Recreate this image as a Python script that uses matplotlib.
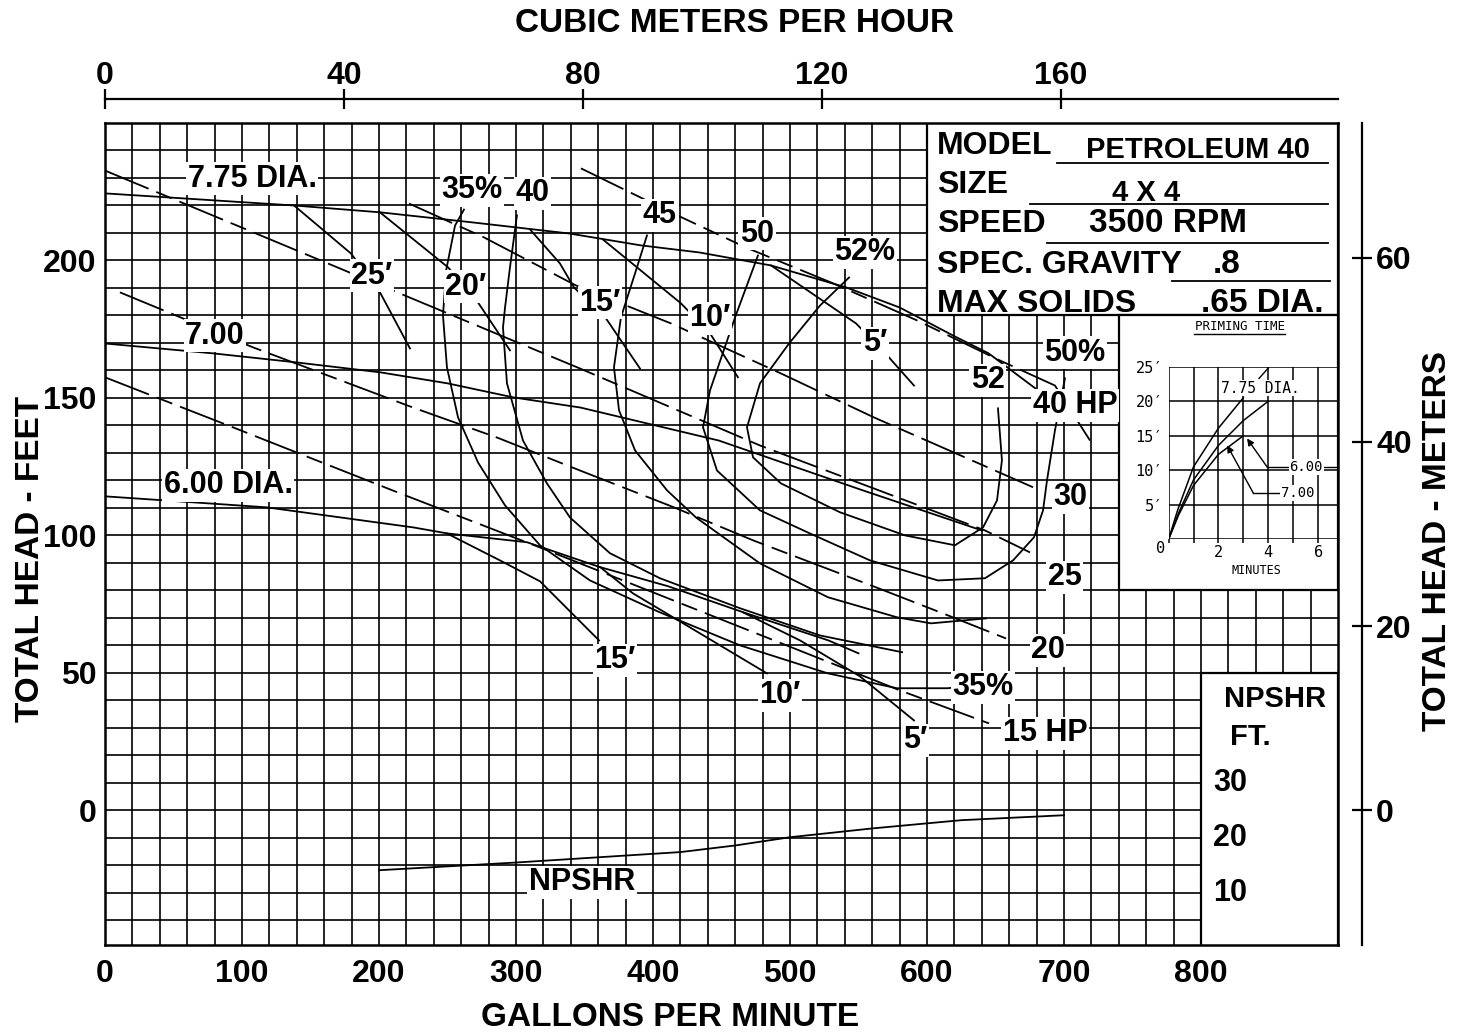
#!/usr/bin/env python3
import matplotlib

matplotlib.use("Agg")
import matplotlib.pyplot as plt
from matplotlib import font_manager
from matplotlib.patches import Rectangle

plt.rcParams["font.family"] = ["Liberation Sans", "DejaVu Sans"]
plt.rcParams["font.weight"] = "bold"
plt.rcParams["lines.scale_dashes"] = False

W, H, DPI = 1471, 1036, 100
LW = 1.3
HP_DASH = (0, (34, 6, 12, 6))
MONO = ["DejaVu Sans Mono", "DejaVu Sans"]

# head-capacity curves (gpm, ft)
DIA_775_GPM = [0, 138, 201, 269, 339, 391, 434, 486, 541, 580, 619, 645, 679]
DIA_775_FT = [224.4, 220.0, 217.5, 213.8, 209.8, 205.5, 202.9, 198.2, 190.2, 182.9, 172.7, 166.2, 153.5]
DIA_700_GPM = [0, 79, 140, 201, 250, 298, 347, 448, 553, 640]
DIA_700_FT = [169.8, 166.2, 162.9, 159.3, 155.3, 150.2, 146.5, 134.5, 116.4, 101.8]
DIA_600_GPM = [0, 118, 225, 250, 308, 361, 411, 466, 528, 550]
DIA_600_FT = [114.2, 110.2, 102.9, 100.7, 97.5, 88.5, 81.5, 72.0, 61.8, 57.1]

# efficiency curves
EFF_35_GPM = [262, 255.5, 249, 246.7, 249.6, 257.7, 272.3, 292, 317.5, 354, 405, 463.5, 527.7, 578, 615, 628]
EFF_35_FT = [218.5, 212.7, 196.4, 180.0, 161.1, 142.9, 126.5, 110.9, 96.4, 83.6, 72.0, 60.0, 49.8, 44.4, 44.4, 45.1]
EFF_40_GPM = [300.7, 295.6, 292.0, 290.5, 293.4, 305.1, 322.6, 339.4, 368.6, 405.1, 463.5, 521.9, 581.8]
EFF_40_FT = [216.4, 197.5, 182.9, 175.6, 155.3, 134.5, 118.9, 106.5, 93.5, 84.4, 73.5, 63.6, 57.5]
EFF_45_GPM = [395.6, 388.3, 376.6, 371.5, 375.2, 386.9, 410.2, 431.4, 478.1, 527.7, 578.1, 602.9, 643.1]
EFF_45_FT = [209.1, 197.5, 179.3, 161.1, 145.5, 130.9, 116.4, 106.5, 89.8, 77.5, 70.2, 68.0, 69.8]
EFF_50_GPM = [476.6, 459.9, 441.6, 436.5, 446.7, 478.1, 514.6, 558.4, 608.0, 642.3, 662.8, 678.1, 684.7, 687.6, 693.4, 700.7]
EFF_50_FT = [201.8, 179.3, 152.7, 139.3, 123.6, 109.1, 100.7, 90.9, 83.6, 84.4, 90.9, 99.3, 109.1, 120.0, 138.2, 157.1]
EFF_52_GPM = [543.1, 521.9, 499.3, 478.1, 468.6, 473.0, 493.4, 536.5, 583.9, 620.4, 640.9, 651.1, 654.7, 651.8]
EFF_52_FT = [193.8, 183.6, 169.8, 155.3, 139.3, 128.4, 118.9, 108.4, 100.0, 96.4, 102.9, 112.7, 127.3, 146.2]

# horsepower lines
HP_40_GPM = [347.4, 413.1, 467.9, 529.9, 592.7, 653.3, 693.4, 719.0]
HP_40_FT = [233.5, 217.5, 204.7, 192.0, 178.2, 163.6, 154.5, 134.5]
HP_30_GPM = [221.9, 276.6, 343.8, 413.1, 493.4, 561.3, 621.2, 677.4]
HP_30_FT = [220.7, 208.4, 190.9, 177.1, 158.9, 142.9, 129.8, 117.5]
HP_25_GPM = [0, 346.7, 478.1, 642.3, 675.2]
HP_25_FT = [232.7, 160.7, 132.7, 101.8, 93.8]
HP_20_GPM = [10.9, 108.0, 224.8, 286.1, 346.7, 415.3, 473.0, 562.8, 615.3, 657.7]
HP_20_FT = [188.4, 168.4, 146.5, 135.6, 123.6, 110.2, 98.2, 81.1, 70.9, 62.5]
HP_15_GPM = [0, 93.4, 215.3, 317.5, 580.3, 645.3]
HP_15_FT = [157.5, 139.3, 115.3, 95.6, 43.6, 31.6]

# suction lift branches
LIFT_775_25_GPM = [138.0, 179.6, 200.7, 222.6]
LIFT_775_25_FT = [220.0, 202.5, 188.4, 168.0]
LIFT_775_20_GPM = [200.7, 250.4, 272.3, 295.6]
LIFT_775_20_FT = [217.5, 197.5, 184.7, 167.3]
LIFT_775_15_GPM = [310.2, 332.1, 342.3, 365.7, 390.5]
LIFT_775_15_FT = [211.3, 198.9, 190.2, 178.9, 160.7]
LIFT_775_10_GPM = [363.5, 420.4, 441.6, 462.0]
LIFT_775_10_FT = [207.6, 184.4, 173.5, 157.5]
LIFT_775_5_GPM = [486.1, 548.2, 572.3, 590.5]
LIFT_775_5_FT = [198.2, 177.1, 164.7, 154.5]
LIFT_600_15_GPM = [249.6, 288.3, 317.5, 360.6]
LIFT_600_15_FT = [100.7, 90.9, 83.3, 61.8]
LIFT_600_10_GPM = [361.3, 385.4, 483.2]
LIFT_600_10_FT = [88.5, 78.9, 49.8]
LIFT_600_5_GPM = [465.7, 507.3, 551.1, 590.5]
LIFT_600_5_FT = [72.0, 61.8, 48.7, 32.7]

NPSHR_GPM = [200, 300, 420, 460, 500, 560, 625, 700]
NPSHR_FT = [14.1, 15.5, 17.4, 18.6, 20.1, 21.7, 23.2, 24.1]
NPSHR_TICKS = [30, 20, 10]

# priming time inset (minutes, ft)
PRIME_A_MIN = [0, 0.37, 1.0, 2.0, 3.0]
PRIME_A_FT = [0, 4.3, 10.5, 16.1, 20.5]
PRIME_B_MIN = [0, 0.4, 1.0, 2.0, 3.0, 4.0]
PRIME_B_FT = [0, 3.8, 8.6, 13.6, 17.2, 20.0]
PRIME_C_MIN = [0, 0.4, 1.0, 2.0, 3.0]
PRIME_C_FT = [0, 3.5, 7.8, 12.3, 15.0]
PRIME_TICKS = [5, 10, 15, 20, 25]

GPM_TICKS = list(range(0, 801, 100))
FT_TICKS = list(range(0, 201, 50))
M3H_TICKS = [0, 40, 80, 120, 160]
M_TICKS = [0, 20, 40, 60]

LABELS = [
    ("7.75 DIA.", 107.3, 229.8), ("7.00", 80.3, 172.7), ("6.00 DIA.", 89.8, 118.2),
    ("35%", 267.9, 225.5), ("40", 311.7, 224.4), ("45", 405.1, 216.4),
    ("50", 475.9, 209.8), ("52%", 554.7, 202.9),
    ("25\u2032", 194.9, 194.5), ("20\u2032", 263.5, 190.5), ("15\u2032", 361.3, 184.7),
    ("10\u2032", 441.6, 178.9), ("5\u2032", 562.0, 169.8),
    ("52", 644.5, 156.4), ("50%", 708.0, 166.5), ("40 HP", 708.0, 147.3),
    ("30", 704.4, 113.8), ("25", 700.7, 84.7), ("20", 688.3, 58.2),
    ("35%", 640.9, 44.7), ("15 HP", 686.1, 28.0),
    ("15\u2032", 372.3, 54.5), ("10\u2032", 492.7, 41.8), ("5\u2032", 591.2, 25.5),
]


def has_font(name):
    try:
        font_manager.findfont(font_manager.FontProperties(family=name), fallback_to_default=False)
        return True
    except ValueError:
        return False


NARROW = has_font("Liberation Sans Narrow")
NARROW_FAMILY = ["Liberation Sans Narrow", "Liberation Sans"] if NARROW else ["Liberation Sans", "DejaVu Sans"]
NARROW_SCALE = 1.1 if NARROW else 1.0


def fx(px):
    return px / W


def fy(py):
    return 1 - py / H


def draw_main(fig):
    ax = fig.add_axes([fx(105), fy(945), fx(1338) - fx(105), fy(123) - fy(945)])
    ax.set_xlim(0, 900)
    ax.set_ylim(-49, 250)
    for g in range(20, 900, 20):
        ax.axvline(g, color="k", lw=1.2, zorder=1)
    for h in range(-40, 250, 10):
        ax.axhline(h, color="k", lw=1.2, zorder=1)
    for x0, y0, w, h in [(600, 180, 300, 75), (740, 80, 160, 100), (800, -55, 100, 105)]:
        ax.add_patch(Rectangle((x0, y0), w, h, facecolor="white", edgecolor="k", lw=1.6, zorder=2))

    solid = [
        (DIA_775_GPM, DIA_775_FT), (DIA_700_GPM, DIA_700_FT), (DIA_600_GPM, DIA_600_FT),
        (EFF_35_GPM, EFF_35_FT), (EFF_40_GPM, EFF_40_FT), (EFF_45_GPM, EFF_45_FT),
        (EFF_50_GPM, EFF_50_FT), (EFF_52_GPM, EFF_52_FT),
        (LIFT_775_25_GPM, LIFT_775_25_FT), (LIFT_775_20_GPM, LIFT_775_20_FT),
        (LIFT_775_15_GPM, LIFT_775_15_FT), (LIFT_775_10_GPM, LIFT_775_10_FT),
        (LIFT_775_5_GPM, LIFT_775_5_FT), (LIFT_600_15_GPM, LIFT_600_15_FT),
        (LIFT_600_10_GPM, LIFT_600_10_FT), (LIFT_600_5_GPM, LIFT_600_5_FT),
    ]
    for xs, ys in solid:
        ax.plot(xs, ys, color="k", lw=LW, zorder=3, solid_joinstyle="round")
    for xs, ys in [(HP_40_GPM, HP_40_FT), (HP_30_GPM, HP_30_FT), (HP_25_GPM, HP_25_FT),
                   (HP_20_GPM, HP_20_FT), (HP_15_GPM, HP_15_FT)]:
        ax.plot(xs, ys, color="k", lw=LW, ls=HP_DASH, zorder=3)
    # NPSHR is drawn on its own scale: 0 ft at the bottom, 10 ft per 20 ft of head
    ax.plot(NPSHR_GPM, [2 * v - 50 for v in NPSHR_FT], color="k", lw=LW, zorder=3)

    for s, x, y in LABELS:
        ax.text(x, y, s, fontsize=22, ha="center", va="center", zorder=5,
                bbox=dict(facecolor="white", edgecolor="none", pad=1.0))
    ax.text(348.2, -26.2, "NPSHR", fontsize=22 * NARROW_SCALE, family=NARROW_FAMILY,
            ha="center", va="center", zorder=5, bbox=dict(facecolor="white", edgecolor="none", pad=1.0))

    # model box
    box = [
        ("MODEL", 607.3, 238.9, 23, "left"),
        ("PETROLEUM 40", 797.8, 237.1, 21, "center"),
        ("SIZE", 607.3, 224.4, 23, "left"),
        ("4 X 4", 759.9, 221.5, 21, "center"),
        ("SPEED", 607.3, 210.2, 23, "left"),
        ("3500 RPM", 775.9, 210.2, 24, "center"),
        ("SPEC. GRAVITY", 607.3, 195.6, 23, "left"),
        (".8", 819.0, 195.6, 24, "center"),
        ("MAX SOLIDS", 607.3, 181.2, 23, "left"),
        (".65 DIA.", 844.5, 181.2, 24, "center"),
    ]
    for s, x, y, size, ha in box:
        ax.text(x, y, s, fontsize=size, ha=ha, va="baseline", zorder=4)
    for x0, x1, y in [(694.9, 892.7, 235.6), (675.2, 892.7, 220.7), (687.6, 892.7, 206.5), (778.8, 894.0, 192.4)]:
        ax.plot([x0, x1], [y, y], color="k", lw=1.3, zorder=4)

    # NPSHR scale box
    ax.text(854, 37.5, "NPSHR", fontsize=21, ha="center", va="baseline", zorder=4)
    ax.text(821.2, 23.6, "FT.", fontsize=21, ha="left", va="baseline", zorder=4)
    for v in NPSHR_TICKS:
        ax.text(821.2, 2 * v - 50, str(v), fontsize=22, ha="center", va="center", zorder=4)

    ax.set_xticks(GPM_TICKS)
    ax.set_yticks(FT_TICKS)
    ax.tick_params(length=0, labelsize=23 * NARROW_SCALE)
    ax.tick_params(axis="x", pad=10)
    ax.tick_params(axis="y", pad=6)
    for lab in ax.get_xticklabels() + ax.get_yticklabels():
        lab.set_family(NARROW_FAMILY)
    for sp in ax.spines.values():
        sp.set_linewidth(1.8)
    return ax


def draw_scales(fig):
    top = fig.add_axes([fx(105), fy(99), fx(1338) - fx(105), 1e-4])
    top.set_xlim(0, 206.4)
    top.set_yticks([])
    for side in ("left", "right", "top"):
        top.spines[side].set_visible(False)
    top.spines["bottom"].set_linewidth(1.6)
    top.set_xticks(M3H_TICKS)
    top.tick_params(axis="x", direction="inout", length=14, width=1.6, labelsize=23,
                    bottom=True, top=False, labelbottom=False, labeltop=True, pad=-1.5)

    right = fig.add_axes([fx(1362), fy(945), 1e-4, fy(123) - fy(945)])
    right.set_ylim(-14.67, 74.67)
    right.set_xticks([])
    for side in ("right", "top", "bottom"):
        right.spines[side].set_visible(False)
    right.spines["left"].set_linewidth(1.6)
    right.set_yticks(M_TICKS)
    right.tick_params(axis="y", direction="inout", length=14, width=1.6, labelsize=23,
                      left=True, right=False, labelleft=False, labelright=True, pad=3)

    fig.text(fx(735), fy(23), "CUBIC METERS PER HOUR", fontsize=24, ha="center", va="center")
    fig.text(fx(670), fy(1018), "GALLONS PER MINUTE", fontsize=24 * NARROW_SCALE, family=NARROW_FAMILY,
             ha="center", va="center")
    fig.text(fx(31), fy(559), "TOTAL HEAD - FEET", fontsize=24, rotation=90, ha="center", va="center")
    fig.text(fx(1438), fy(541), "TOTAL HEAD - METERS", fontsize=24, rotation=90, ha="center", va="center")


def draw_inset(fig):
    iax = fig.add_axes([fx(1168.6), fy(539.3), fx(1338) - fx(1168.6), fy(366.7) - fy(539.3)])
    iax.set_xlim(0, 6.8)
    iax.set_ylim(0, 25)
    iax.patch.set_alpha(0)
    for sp in iax.spines.values():
        sp.set_visible(False)
    for m in range(0, 7):
        iax.axvline(m, color="k", lw=1.1, zorder=1)
    for f in range(0, 26, 5):
        iax.axhline(f, color="k", lw=1.1, zorder=1)
    for xs, ys in [(PRIME_A_MIN, PRIME_A_FT), (PRIME_B_MIN, PRIME_B_FT), (PRIME_C_MIN, PRIME_C_FT)]:
        iax.plot(xs, ys, color="k", lw=1.1, zorder=3)

    iax.set_xticks(range(0, 7))
    iax.set_xticklabels(["", "", "2", "", "4", "", "6"])
    iax.set_yticks(PRIME_TICKS)
    iax.set_yticklabels([f"{t}\u2032" for t in PRIME_TICKS])
    iax.tick_params(axis="x", length=3, width=1.1, pad=1, labelsize=11)
    iax.tick_params(axis="y", length=0, pad=4, labelsize=11)
    for lab in iax.get_xticklabels() + iax.get_yticklabels():
        lab.set_family(MONO)
        lab.set_fontweight("normal")

    kw = dict(family=MONO, fontweight="normal", zorder=5)
    iax.text(-0.12, -1.3, "0", fontsize=11, ha="right", va="center", clip_on=False, **kw)
    iax.text(3.51, -4.45, "MINUTES", fontsize=8.5, ha="center", va="center", clip_on=False, **kw)
    iax.text(2.85, 30.8, "PRIMING TIME", fontsize=9, ha="center", va="center", clip_on=False, **kw)
    iax.plot([1.0, 4.66], [29.75, 29.75], color="k", lw=1.0, clip_on=False)
    iax.text(3.67, 21.9, "7.75 DIA.", fontsize=10.5, ha="center", va="center",
             bbox=dict(facecolor="white", edgecolor="none", pad=0.5), **kw)
    iax.plot([3.63, 4.0], [23.3, 24.8], color="k", lw=1.0, zorder=4)

    iax.plot([3.95, 6.8], [10.5, 10.5], color="k", lw=1.0, zorder=4)
    iax.annotate("", xy=(3.15, 14.6), xytext=(3.95, 10.5),
                 arrowprops=dict(arrowstyle="-|>", color="k", lw=1.0, mutation_scale=10, shrinkA=0, shrinkB=0))
    iax.text(5.53, 10.5, "6.00", fontsize=10, ha="center", va="center",
             bbox=dict(facecolor="white", edgecolor="none", pad=0.5), **kw)

    iax.plot([3.4, 4.6], [6.7, 6.7], color="k", lw=1.0, zorder=4)
    iax.annotate("", xy=(2.35, 13.6), xytext=(3.4, 6.7),
                 arrowprops=dict(arrowstyle="-|>", color="k", lw=1.0, mutation_scale=10, shrinkA=0, shrinkB=0))
    iax.text(5.17, 6.7, "7.00", fontsize=10, ha="center", va="center",
             bbox=dict(facecolor="white", edgecolor="none", pad=0.5), **kw)


def main():
    fig = plt.figure(figsize=(W / DPI, H / DPI), dpi=DPI)
    draw_main(fig)
    draw_scales(fig)
    draw_inset(fig)
    fig.savefig("out.png", dpi=DPI)
    plt.close(fig)


if __name__ == "__main__":
    main()
